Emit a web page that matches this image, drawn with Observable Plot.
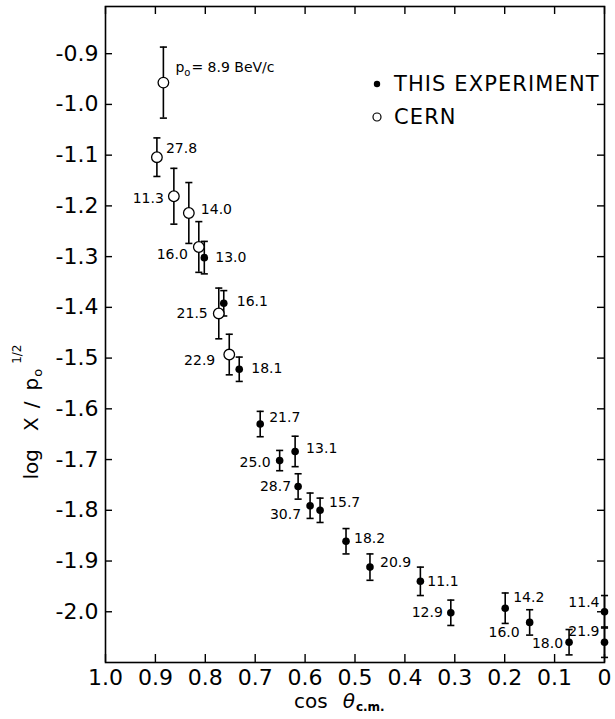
<!DOCTYPE html>
<html>
<head>
<meta charset="utf-8">
<script src="https://cdn.jsdelivr.net/npm/d3@7"></script>
<script src="https://cdn.jsdelivr.net/npm/@observablehq/plot@0.6"></script>
<style>
  body { margin: 0; background: #fff; }
  #chart svg { font-family: "DejaVu Sans", sans-serif; }
</style>
</head>
<body>
<div id="chart"></div>
<script>
// ---------- data ----------
// CERN (open circles)
const cernP0   = ["8.9", "27.8", "11.3", "14.0", "16.0", "21.5", "22.9"];
const cernCos  = [0.884, 0.897, 0.863, 0.833, 0.813, 0.773, 0.752];
const cernLogX = [-0.957, -1.104, -1.181, -1.214, -1.281, -1.412, -1.493];
const cernErr  = [0.070, 0.038, 0.055, 0.060, 0.050, 0.050, 0.040];

// This experiment (filled dots)
const thisP0   = ["13.0", "16.1", "18.1", "21.7", "13.1", "25.0", "28.7", "30.7", "15.7",
                  "18.2", "20.9", "11.1", "12.9", "14.2", "16.0", "18.0", "11.4", "21.9"];
const thisCos  = [0.802, 0.763, 0.732, 0.690, 0.620, 0.651, 0.614, 0.590, 0.570,
                  0.518, 0.470, 0.369, 0.308, 0.199, 0.150, 0.071, 0.000, 0.000];
const thisLogX = [-1.302, -1.392, -1.522, -1.630, -1.684, -1.702, -1.753, -1.791, -1.800,
                  -1.861, -1.912, -1.940, -2.002, -1.993, -2.021, -2.060, -2.000, -2.060];
const thisErr  = [0.032, 0.025, 0.024, 0.025, 0.030, 0.020, 0.025, 0.025, 0.024,
                  0.025, 0.026, 0.028, 0.025, 0.030, 0.025, 0.025, 0.032, 0.030];

// axes
const xTicks      = [1.0, 0.9, 0.8, 0.7, 0.6, 0.5, 0.4, 0.3, 0.2, 0.1, 0.0];
const xTickLabels = ["1.0", "0.9", "0.8", "0.7", "0.6", "0.5", "0.4", "0.3", "0.2", "0.1", "0"];
const yTicks      = [-0.9, -1.0, -1.1, -1.2, -1.3, -1.4, -1.5, -1.6, -1.7, -1.8, -1.9, -2.0];
const yTickLabels = ["-0.9", "-1.0", "-1.1", "-1.2", "-1.3", "-1.4", "-1.5", "-1.6", "-1.7", "-1.8", "-1.9", "-2.0"];

const legendLabels = ["THIS EXPERIMENT", "CERN"];

// ---------- layout ----------
const W = 615, H = 719;
const mL = 105, mR = 11, mT = 6, mB = 57;
const fw = W - mL - mR, fh = H - mT - mB;

// label placement (dx, dy, anchor) per point
const cernPlace = [[12,-15,"start"],[9,-9,"start"],[-10,2,"end"],[12,-3,"start"],
                   [-11,8,"end"],[-11,0,"end"],[-14,6,"end"]];
const thisPlace = [[11,0,"start"],[13,-2,"start"],[12,-1,"start"],[9,-7,"start"],
                   [11,-3,"start"],[-9,2,"end"],[-7,0,"end"],[-9,9,"end"],[9,-8,"start"],
                   [8,-3,"start"],[10,-5,"start"],[7,0,"start"],[-8,0,"end"],[8,-11,"start"],
                   [-10,10,"end"],[-6,1,"end"],[-5,-9,"end"],[-5,-11,"end"]];

const cern = cernCos.map((c, i) => ({cos: c, v: cernLogX[i], e: cernErr[i],
  label: i === 0 ? `p = ${cernP0[i]} BeV/c` : cernP0[i], place: cernPlace[i]}));
const mine = thisCos.map((c, i) => ({cos: c, v: thisLogX[i], e: thisErr[i],
  label: thisP0[i], place: thisPlace[i]}));
const all = [...cern, ...mine];

const hbar = { draw(ctx, size) { const w = Math.sqrt(size) / 2; ctx.moveTo(-w, 0); ctx.lineTo(w, 0); } };

const fmtX = d => xTickLabels[xTicks.findIndex(t => Math.abs(t - d) < 1e-9)];
const fmtY = d => yTickLabels[yTicks.findIndex(t => Math.abs(t - d) < 1e-9)];

const labelMarks = all.map(d => Plot.text([d], {
  x: "cos", y: "v", text: "label",
  dx: d.place[0], dy: d.place[1], textAnchor: d.place[2],
  fontSize: 14, fill: "black"
}));

const plot = Plot.plot({
  width: W, height: H,
  marginLeft: mL, marginRight: mR, marginTop: mT, marginBottom: mB,
  style: {fontFamily: "DejaVu Sans, sans-serif", fontSize: "22px", background: "white", color: "black"},
  x: {domain: [1, 0]},
  y: {domain: [-2.1, -0.807]},
  marks: [
    Plot.axisX({ticks: xTicks, tickFormat: fmtX, tickSize: 0, tickPadding: 7, fontSize: 22, anchor: "bottom", label: null}),
    Plot.axisY({ticks: yTicks, tickFormat: fmtY, tickSize: 0, tickPadding: 7, fontSize: 22, anchor: "left", label: null}),
    // inward ticks on all four sides
    Plot.tickX(xTicks, {x: d => d, insetTop: fh - 8, stroke: "black", strokeWidth: 1.4}),
    Plot.tickX(xTicks, {x: d => d, insetBottom: fh - 8, stroke: "black", strokeWidth: 1.4}),
    Plot.tickY(yTicks, {y: d => d, insetRight: fw - 7, stroke: "black", strokeWidth: 1.4}),
    Plot.tickY(yTicks, {y: d => d, insetLeft: fw - 7, stroke: "black", strokeWidth: 1.4}),
    Plot.frame({stroke: "black", strokeWidth: 1.6}),
    // error bars
    Plot.ruleX(all, {x: "cos", y1: d => d.v - d.e, y2: d => d.v + d.e, stroke: "black", strokeWidth: 1.6}),
    Plot.dot(all, {x: "cos", y: d => d.v + d.e, symbol: hbar, r: 4, stroke: "black", fill: "none", strokeWidth: 1.6}),
    Plot.dot(all, {x: "cos", y: d => d.v - d.e, symbol: hbar, r: 4, stroke: "black", fill: "none", strokeWidth: 1.6}),
    // points
    Plot.dot(cern, {x: "cos", y: "v", r: 5.3, fill: "white", stroke: "black", strokeWidth: 1.3}),
    Plot.dot(mine, {x: "cos", y: "v", r: 3.8, fill: "black", stroke: "none"}),
    ...labelMarks
  ]
});

document.getElementById("chart").appendChild(plot);
const svg = d3.select(plot);

// subscript in the p0 label
svg.selectAll("text").filter(function() { return this.textContent.includes("BeV/c"); })
  .each(function() {
    const t = d3.select(this);
    const txt = this.textContent.replace(/^p\s*/, "");
    t.text(null);
    t.append("tspan").text("p");
    t.append("tspan").attr("font-size", 10).attr("dy", 4).text("o");
    t.append("tspan").attr("dy", -4).attr("dx", 1).text(txt);
  });

// y-axis title
const yt = svg.append("text")
  .attr("transform", "translate(38,412) rotate(-90)")
  .attr("text-anchor", "middle")
  .attr("font-size", 20)
  .attr("fill", "black");
yt.append("tspan").text("log");
yt.append("tspan").attr("dx", 18).text("X");
yt.append("tspan").attr("dx", 9).text("/");
yt.append("tspan").attr("dx", 11).text("p");
yt.append("tspan").attr("font-size", 13).attr("dy", 4).attr("dx", 1).text("o");
yt.append("tspan").attr("font-size", 12).attr("dy", -21).attr("dx", 5).text("1/2");

// x-axis title
const xt = svg.append("text")
  .attr("x", 294).attr("y", 708)
  .attr("text-anchor", "start")
  .attr("font-size", 20)
  .attr("fill", "black");
xt.append("tspan").text("cos");
xt.append("tspan").attr("dx", 15).attr("font-style", "italic").text("θ");
xt.append("tspan").attr("font-size", 12).attr("font-weight", "bold").attr("dy", 3).attr("dx", 1).text("c.m.");

// legend
const lg = svg.append("g").attr("text-anchor", "start");
lg.append("circle").attr("cx", 377).attr("cy", 84).attr("r", 3.2).attr("fill", "black");
lg.append("text").attr("x", 394).attr("y", 91).attr("font-size", 21).attr("letter-spacing", 1.1)
  .attr("fill", "black").text(legendLabels[0]);
lg.append("circle").attr("cx", 377).attr("cy", 117).attr("r", 4).attr("fill", "white")
  .attr("stroke", "black").attr("stroke-width", 1.2);
lg.append("text").attr("x", 394).attr("y", 124).attr("font-size", 21).attr("letter-spacing", 1.1)
  .attr("fill", "black").text(legendLabels[1]);
</script>
</body>
</html>
